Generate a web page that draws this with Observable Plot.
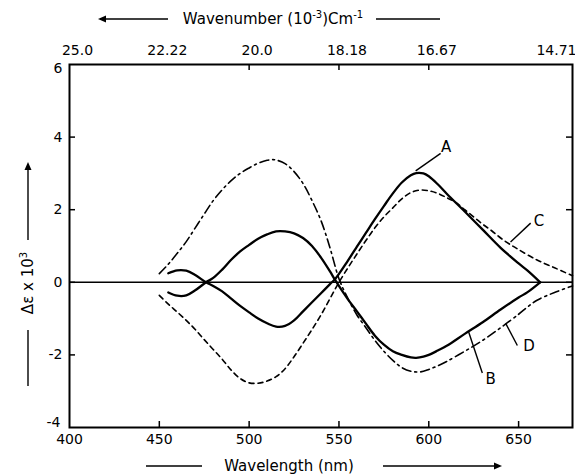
<!DOCTYPE html>
<html><head><meta charset="utf-8">
<script src="https://cdn.jsdelivr.net/npm/d3@7"></script>
<script src="https://cdn.jsdelivr.net/npm/@observablehq/plot@0.6"></script>
<style>body{margin:0;background:#fff} svg{overflow:visible}</style>
</head><body><div id="chart"></div>
<script>
// ---- data ----
const wlAB = [455,460,465,470,476,480,485,490,495,500,505,510,515,520,525,530,535,540,545,548,555,560,565,570,575,580,585,590,593,597,600,605,610,620,630,640,650,655,662];
const valA = [0.25,0.33,0.32,0.2,0,-0.1,-0.25,-0.45,-0.65,-0.83,-1.0,-1.13,-1.22,-1.2,-1.05,-0.8,-0.55,-0.3,-0.05,0.1,0.6,0.98,1.36,1.74,2.1,2.45,2.75,2.95,3.01,3.0,2.92,2.7,2.44,1.95,1.45,0.95,0.52,0.32,0];
const valB = [-0.28,-0.37,-0.36,-0.22,0,0.12,0.35,0.62,0.85,1.03,1.2,1.32,1.4,1.4,1.35,1.22,1.0,0.68,0.3,0.05,-0.47,-0.8,-1.14,-1.47,-1.72,-1.9,-2.0,-2.07,-2.08,-2.05,-2.0,-1.88,-1.75,-1.42,-1.1,-0.75,-0.42,-0.27,0];
const wlC = [450,455,460,465,470,475,480,485,490,495,500,505,510,515,520,525,530,535,540,545,550,555,560,565,570,575,580,585,590,595,600,605,610,615,620,625,630,635,640,645,650,660,670,680];
const valC = [-0.36,-0.6,-0.82,-1.05,-1.3,-1.58,-1.85,-2.12,-2.42,-2.65,-2.77,-2.78,-2.72,-2.6,-2.38,-2.05,-1.68,-1.3,-0.9,-0.45,0.0,0.4,0.78,1.15,1.5,1.8,2.05,2.3,2.47,2.54,2.52,2.45,2.33,2.2,2.0,1.8,1.6,1.42,1.22,1.05,0.9,0.62,0.4,0.18];
const wlD = [450,455,460,465,470,475,480,485,490,495,500,505,510,513,515,520,525,530,535,540,545,550,555,560,565,570,575,580,585,590,595,600,605,610,620,630,640,650,655,660,670,680];
const valD = [0.24,0.5,0.8,1.12,1.5,1.88,2.25,2.55,2.8,3.0,3.15,3.28,3.36,3.38,3.37,3.27,3.05,2.72,2.25,1.7,0.95,0.1,-0.45,-0.9,-1.25,-1.6,-1.9,-2.15,-2.35,-2.45,-2.47,-2.4,-2.3,-2.18,-1.9,-1.6,-1.25,-0.88,-0.68,-0.5,-0.28,-0.1];

const curveNames = ["A","B","C","D"];
const leaderX1 = [592.7, 622.2, 645.5, 642.8];
const leaderY1 = [3.07, -1.37, 1.11, -1.13];
const leaderX2 = [606.6, 629.8, 656.7, 649.3];
const leaderY2 = [3.55, -2.5, 1.63, -1.74];
const nameX = [609.6, 634.4, 661.4, 655.8];
const nameY = [3.73, -2.67, 1.67, -1.76];

const bottomTicks = [400,450,500,550,600,650];
const innerBottomTicks = [450,500,550,600,650];
const yTicks = [-2,0,2,4];
const yTopLabel = [6];
const yBottomLabel = [-4];
const innerYTicks = [-2,0,2,4];
const topTicks = [400,450,500,550,600,680];
const topLabels = ["25.0","22.22","20.0","18.18","16.67","14.71"];
const innerTopTicks = [500,550,600];

// ---- build ----
const W = 575, H = 476, mL = 69, mR = 3, mT = 64, mB = 49;
const pH = H - mT - mB, pW = W - mL - mR;
const rows = (wl, v) => wl.map((x, i) => ({wl: x, v: v[i]}));

const chart = Plot.plot({
  width: W, height: H,
  marginLeft: mL, marginRight: mR, marginTop: mT, marginBottom: mB,
  style: {fontFamily: "'DejaVu Sans', sans-serif", fontSize: "14px", background: "#fff", color: "#000", overflow: "visible"},
  x: {domain: [400, 680]},
  y: {domain: [-4, 6]},
  marks: [
    Plot.ruleY([0], {stroke: "#000", strokeWidth: 1.4}),
    Plot.frame({stroke: "#000", strokeWidth: 2}),
    Plot.axisX({anchor: "bottom", ticks: bottomTicks, tickSize: 0, tickPadding: 7, tickFormat: d => String(d), label: null}),
    Plot.axisY({anchor: "left", ticks: yTicks, tickSize: 0, tickPadding: 7, tickFormat: d => String(d), label: null}),
    Plot.text(yTopLabel, {y: d => d, text: d => String(d), frameAnchor: "left", dx: -7, dy: 4, textAnchor: "end", fontSize: 14}),
    Plot.text(yBottomLabel, {y: d => d, text: d => String(d), frameAnchor: "left", dx: -9, dy: -5, textAnchor: "end", fontSize: 14}),
    Plot.tickX(innerBottomTicks, {x: d => d, insetTop: pH - 6, strokeWidth: 1.5}),
    Plot.tickX(innerTopTicks, {x: d => d, insetBottom: pH - 6, strokeWidth: 1.5}),
    Plot.tickY(innerYTicks, {y: d => d, insetRight: pW - 6, strokeWidth: 1.5}),
    Plot.tickY(innerYTicks, {y: d => d, insetLeft: pW - 6, strokeWidth: 1.5}),
    Plot.text(topTicks.slice(0, 5), {x: d => d, text: (d, i) => topLabels[i], frameAnchor: "top", dy: -19, dx: 8, fontSize: 14}),
    Plot.text(topTicks.slice(5), {x: d => d, text: (d, i) => topLabels[5 + i], frameAnchor: "top", dy: -19, dx: 4, textAnchor: "end", fontSize: 14}),
    Plot.line(rows(wlC, valC), {x: "wl", y: "v", curve: "catmull-rom", stroke: "#000", strokeWidth: 1.6, strokeDasharray: "5,4"}),
    Plot.line(rows(wlD, valD), {x: "wl", y: "v", curve: "catmull-rom", stroke: "#000", strokeWidth: 1.6, strokeDasharray: "9,4,2,4"}),
    Plot.line(rows(wlAB, valA), {x: "wl", y: "v", curve: "catmull-rom", stroke: "#000", strokeWidth: 2.3}),
    Plot.line(rows(wlAB, valB), {x: "wl", y: "v", curve: "catmull-rom", stroke: "#000", strokeWidth: 2.3}),
    Plot.link(curveNames, {x1: (d, i) => leaderX1[i], y1: (d, i) => leaderY1[i], x2: (d, i) => leaderX2[i], y2: (d, i) => leaderY2[i], stroke: "#000", strokeWidth: 1.4}),
    Plot.text(curveNames, {x: (d, i) => nameX[i], y: (d, i) => nameY[i], text: d => d, fontSize: 15})
  ]
});
document.getElementById("chart").append(chart);

// ---- axis titles with arrows ----
const svg = d3.select(chart);
const g = svg.append("g").attr("fill", "none").attr("stroke", "#000").attr("stroke-width", 1.4);
const t = svg.append("g").attr("fill", "#000").attr("font-family", "'DejaVu Sans', sans-serif").attr("font-size", 15);
function arrowHead(x, y, dir) {
  const s = 8, w = 3.5;
  let p;
  if (dir === "l") p = [[x, y], [x + s, y - w], [x + s, y + w]];
  if (dir === "r") p = [[x, y], [x - s, y - w], [x - s, y + w]];
  if (dir === "u") p = [[x, y], [x - w, y + s], [x + w, y + s]];
  svg.append("path").attr("d", "M" + p.map(q => q.join(",")).join("L") + "Z").attr("fill", "#000");
}
// top title
const topY = 19;
const tt = t.append("text").attr("x", 273).attr("y", topY + 5).attr("text-anchor", "middle");
tt.append("tspan").text("Wavenumber (10");
tt.append("tspan").attr("font-size", 10).attr("dy", -6).text("-3");
tt.append("tspan").attr("dy", 6).text(")Cm");
tt.append("tspan").attr("font-size", 10).attr("dy", -6).text("-1");
g.append("line").attr("x1", 100).attr("x2", 168).attr("y1", topY).attr("y2", topY);
arrowHead(98, topY, "l");
g.append("line").attr("x1", 376).attr("x2", 440).attr("y1", topY).attr("y2", topY);
// bottom title
const botY = 466;
t.append("text").attr("x", 289).attr("y", botY + 5).attr("text-anchor", "middle").text("Wavelength (nm)");
g.append("line").attr("x1", 146).attr("x2", 202).attr("y1", botY).attr("y2", botY);
g.append("line").attr("x1", 383).attr("x2", 496).attr("y1", botY).attr("y2", botY);
arrowHead(502, botY, "r");
// y title
const yt = t.append("text").attr("transform", "translate(33,283) rotate(-90)").attr("text-anchor", "middle");
yt.append("tspan").text("Δε x 10");
yt.append("tspan").attr("font-size", 10).attr("dy", -6).text("3");
g.append("line").attr("x1", 28).attr("x2", 28).attr("y1", 240).attr("y2", 168);
arrowHead(28, 162, "u");
g.append("line").attr("x1", 28).attr("x2", 28).attr("y1", 330).attr("y2", 386);
</script>
</body></html>
